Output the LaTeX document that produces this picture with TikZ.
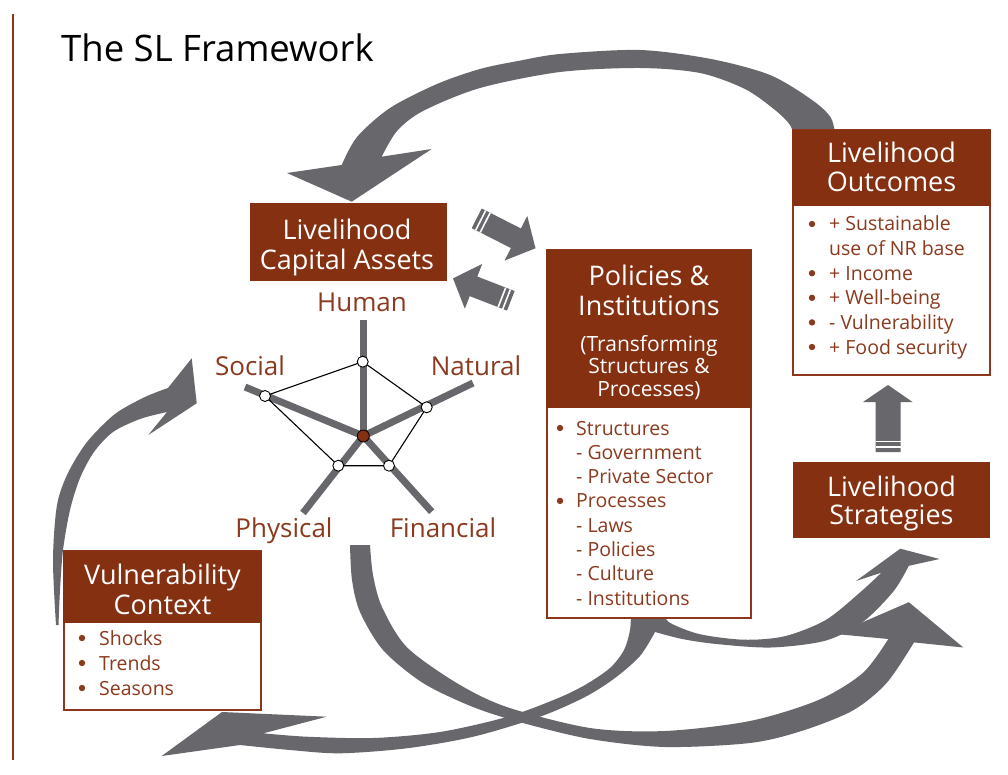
\documentclass[tikz,border=0pt]{standalone}
\usepackage{fontspec}
\setmainfont{Open Sans}
\definecolor{brn}{RGB}{133,48,17}
\definecolor{brnline}{RGB}{140,55,28}
\definecolor{brntxt}{RGB}{139,58,30}
\definecolor{agray}{RGB}{104,103,108}
\begin{document}
\begin{tikzpicture}[x=1pt,y=-1pt,
  hdr/.style={fill=brn, draw=none, inner sep=0pt},
  lstbox/.style={fill=white, draw=brnline, line width=1.5pt, inner sep=0pt},
  htxt/.style={text=white, font=\fontsize{27}{30}\selectfont, anchor=base, inner sep=0pt},
  hsub/.style={text=white, font=\fontsize{21}{24}\selectfont, anchor=base, inner sep=0pt},
  ltxt/.style={text=brntxt, font=\fontsize{19.5}{24}\selectfont, anchor=base west, inner sep=0pt},
  lab/.style={text=brntxt, font=\fontsize{26}{30}\selectfont, anchor=base, inner sep=0pt},
  arr/.style={fill=agray},
  stripe/.style={draw=white, line width=1.6pt},
  spoke/.style={draw=agray, line width=7pt},
  vtx/.style={circle, fill=white, draw=black, line width=0.9pt, minimum size=11pt, inner sep=0pt},
  ctr/.style={circle, fill=brn, draw=black, line width=0.8pt, minimum size=12pt, inner sep=0pt},
  blt/.style={fill=brntxt}
]
\useasboundingbox (0,0) rectangle (1008,775);
\fill[white] (0,0) rectangle (1008,775);

% left rule
\draw[brnline, line width=1.3pt] (13,14) -- (13,760);

% title
\node[anchor=base west, inner sep=0pt, font=\fontsize{36.5}{40}\selectfont] (title) at (61,62) {The SL Framework};

% ---------- big curved arrows ----------
% top arrow: Outcomes -> Capital Assets
\fill[arr] plot[smooth] coordinates {(836,140) (831,118) (812,100) (770,75) (711,59) (640,50) (560,54) (518,61) (480,69) (437,84) (390,108) (357,137) (341.7,165)}
  -- (287,173) -- (351.7,201.7) -- (431.7,149) -- (381.7,156.7)
  -- plot[smooth] coordinates {(381.7,156.7) (397,131) (423,111) (480,88) (560,72) (640,68) (700,73) (745,89) (775,110) (790,125) (795,140)} -- cycle;

% left arrow: Vulnerability -> assets
\fill[arr] plot[smooth] coordinates {(56,625) (53,560) (57,505) (68,473) (87,442) (115,414) (145,397) (168,388)}
  -- (191.7,358.3) -- (196.7,403.3) -- (148.3,435) -- (167,412)
  -- plot[smooth] coordinates {(167,412) (140,419) (113,432) (94,452) (80,478) (70,510) (63,550) (60,590) (58.5,625)} -- cycle;

% arrow A: assets -> strategies (lower right head)
\fill[arr] plot[smooth] coordinates {(350,545) (352,580) (360,612) (383,650) (423,683) (473,707) (523,723) (590,739) (665,747) (750,743) (801.5,731) (852.6,710.6) (886.6,683) (914,642.4)}
  -- (963.3,647.5) -- (908.8,602.2) -- (835.5,634) -- (888.3,639)
  -- plot[smooth] coordinates {(888.3,639) (862.8,673) (818.5,700) (750,721) (665,731) (590,728) (506.7,707) (456.7,683) (406.7,647) (382,607) (373,575) (370,545)} -- cycle;

% arrow B: policies -> vulnerability and -> strategies
\fill[arr] plot[smooth] coordinates {(631,612) (630,630) (624,650) (610,668) (585,685) (556,699) (506.7,717) (440,732) (373.3,738) (306.7,736.7) (263.3,733.3)}
  -- (326.7,716.7) -- (222,712) -- (161.7,756) -- (240,745)
  -- plot[smooth] coordinates {(240,745) (290,750) (340,753.3) (406.7,748.3) (473.3,736.7) (540,716.7) (585,697) (615,678) (640,656) (655,632)}
  -- plot[smooth] coordinates {(655,632) (682.2,639) (716.3,644) (770.8,647.5) (825.3,640.7) (862.8,622) (893.5,591.3) (908.8,565.8)}
  -- (939.5,559) -- (900.3,548.7) -- (856,581) -- (881.5,572.6)
  -- plot[smooth] coordinates {(881.5,572.6) (859.4,593) (825.3,620.3) (784.4,636.3) (743.5,639.7) (699,634) (668.6,622) (665,612)} -- cycle;

% ---------- striped straight arrows ----------
\begin{scope}[shift={(476.7,218.3)}, rotate=-27]
  \fill[arr] (0,-11) -- (44,-11) -- (44,-25) -- (66,0) -- (44,25) -- (44,11) -- (0,11) -- cycle;
  \draw[stripe] (4.5,-11) -- (4.5,11);
  \draw[stripe] (9.5,-11) -- (9.5,11);
\end{scope}
\begin{scope}[shift={(510.8,300.8)}, rotate=158.8]
  \fill[arr] (0,-10.5) -- (40,-10.5) -- (40,-24) -- (62,0) -- (40,24) -- (40,10.5) -- (0,10.5) -- cycle;
  \draw[stripe] (4.5,-10.5) -- (4.5,10.5);
  \draw[stripe] (9.5,-10.5) -- (9.5,10.5);
\end{scope}
% vertical arrow strategies -> outcomes
\fill[arr] (875.5,452) -- (875.5,402) -- (863,402) -- (888,385) -- (912.5,402) -- (900.5,402) -- (900.5,452) -- cycle;
\draw[stripe] (875.5,441.5) -- (900.5,441.5);
\draw[stripe] (875.5,446.8) -- (900.5,446.8);

% ---------- boxes ----------
% capital assets
\node[hdr, minimum width=197pt, minimum height=78pt] (ca) at (348.5,242) {};
\node[htxt] (ca1) at (347,240) {Livelihood};
\node[htxt] (ca2) at (347,269.5) {Capital Assets};

% outcomes
\node[lstbox, minimum width=197pt, minimum height=245pt] (ol) at (891.5,252.5) {};
\node[hdr, minimum width=198.5pt, minimum height=76pt] (oh) at (891.5,168) {};
\node[htxt] (oh1) at (891.5,163) {Livelihood};
\node[htxt] (oh2) at (891.5,192) {Outcomes};
\fill[blt] (812,224) circle[radius=3.2pt];
\fill[blt] (812,273.2) circle[radius=3.2pt];
\fill[blt] (812,297.8) circle[radius=3.2pt];
\fill[blt] (812,322.4) circle[radius=3.2pt];
\fill[blt] (812,347) circle[radius=3.2pt];
\node[ltxt] (o1) at (829,231) {+ Sustainable};
\node[ltxt] (o2) at (829,255.6) {use of NR base};
\node[ltxt] (o3) at (829,280.2) {+ Income};
\node[ltxt] (o4) at (829,304.8) {+ Well-being};
\node[ltxt] (o5) at (829,329.4) {- Vulnerability};
\node[ltxt] (o6) at (829,354) {+ Food security};

% strategies
\node[hdr, minimum width=197pt, minimum height=76pt] (sh) at (891.5,500) {};
\node[htxt] (sh1) at (891.5,496) {Livelihood};
\node[htxt] (sh2) at (891.5,524) {Strategies};

% policies
\node[lstbox, minimum width=204pt, minimum height=368pt] (pl) at (649,434) {};
\node[hdr, minimum width=205.5pt, minimum height=158pt] (ph) at (649,329) {};
\node[htxt] (ph1) at (649,286) {Policies \&};
\node[htxt] (ph2) at (649,315) {Institutions};
\node[hsub] (ph3) at (649,351) {(Transforming};
\node[hsub] (ph4) at (649,373.5) {Structures \&};
\node[hsub] (ph5) at (649,396) {Processes)};
\fill[blt] (560,428) circle[radius=3.2pt];
\fill[blt] (560,500.9) circle[radius=3.2pt];
\node[ltxt] (p1) at (576,435) {Structures};
\node[ltxt] (p2) at (576,459.3) {- Government};
\node[ltxt] (p3) at (576,483.6) {- Private Sector};
\node[ltxt] (p4) at (576,507.9) {Processes};
\node[ltxt] (p5) at (576,532.2) {- Laws};
\node[ltxt] (p6) at (576,556.5) {- Policies};
\node[ltxt] (p7) at (576,580.8) {- Culture};
\node[ltxt] (p8) at (576,605) {- Institutions};

% vulnerability
\node[lstbox, minimum width=197pt, minimum height=159pt] (vl) at (162.5,630.5) {};
\node[hdr, minimum width=198.5pt, minimum height=72pt] (vh) at (162.5,587) {};
\node[htxt] (vh1) at (162.5,584) {Vulnerability};
\node[htxt] (vh2) at (162.5,614) {Context};
\fill[blt] (82,638) circle[radius=3.2pt];
\fill[blt] (82,663) circle[radius=3.2pt];
\fill[blt] (82,688) circle[radius=3.2pt];
\node[ltxt] (v1) at (99,645) {Shocks};
\node[ltxt] (v2) at (99,670) {Trends};
\node[ltxt] (v3) at (99,695) {Seasons};

% ---------- asset pentagon ----------
\coordinate (pc) at (363.3,436);
\coordinate (eH) at (363.3,320);
\coordinate (eS) at (245,387);
\coordinate (eN) at (473,383);
\coordinate (eP) at (303,513);
\coordinate (eF) at (431.7,511.7);
\draw[spoke] (pc) -- (eH);
\draw[spoke] (pc) -- (eS);
\draw[spoke] (pc) -- (eN);
\draw[spoke] (pc) -- (eP);
\draw[spoke] (pc) -- (eF);
\coordinate (qH) at (362.7,361.7);
\coordinate (qN) at (426.7,407.3);
\coordinate (qF) at (389,465.7);
\coordinate (qP) at (338.3,465.7);
\coordinate (qS) at (265,396);
\draw[black, line width=1.1pt] (qH) -- (qN) -- (qF) -- (qP) -- (qS) -- cycle;
\node[vtx] (vH) at (qH) {};
\node[vtx] (vN) at (qN) {};
\node[vtx] (vF) at (qF) {};
\node[vtx] (vP) at (qP) {};
\node[vtx] (vS) at (qS) {};
\node[ctr] (vC) at (pc) {};

\node[lab] (lH) at (362,312) {Human};
\node[lab] (lS) at (250,375) {Social};
\node[lab] (lN) at (476,375) {Natural};
\node[lab] (lP) at (284,537) {Physical};
\node[lab] (lF) at (443,537) {Financial};
\end{tikzpicture}
\end{document}
